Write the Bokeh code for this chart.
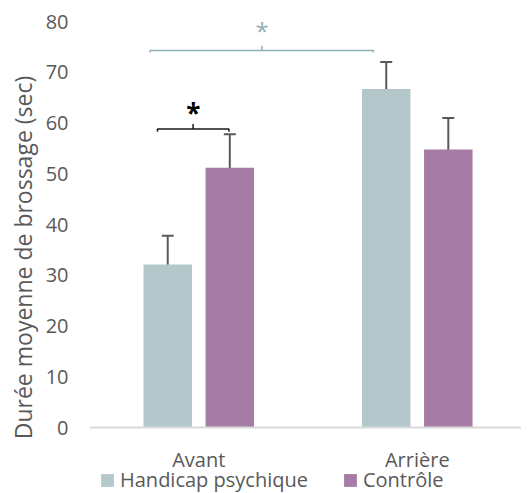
from bokeh.plotting import figure
from bokeh.models import (Range1d, FixedTicker, ColumnDataSource, Whisker, TeeHead,
                          Legend, LegendItem, Span, Title)
from bokeh.core.properties import value
from bokeh.embed import file_html
from bokeh.resources import INLINE

# ---- data ----
categories = ["Avant", "Arrière"]
series_names = ["Handicap psychique", "Contrôle"]
handicap = [32.1, 66.7]
handicap_err = [5.7, 5.3]
controle = [51.2, 54.8]
controle_err = [6.6, 6.2]
y_ticks = [0, 10, 20, 30, 40, 50, 60, 70, 80]

TEAL = "#b4c8cb"
PURPLE = "#a67ba5"
ERR = "#595959"
TXT = "#595959"
FONT = "Open Sans"

centers = [i + 0.5 for i in range(len(categories))]
OFF = 0.142
BW = 0.222

src_h = ColumnDataSource(dict(
    x=[c - OFF for c in centers], top=handicap,
    upper=[v + e for v, e in zip(handicap, handicap_err)],
    lower=[v - e for v, e in zip(handicap, handicap_err)]))
src_c = ColumnDataSource(dict(
    x=[c + OFF for c in centers], top=controle,
    upper=[v + e for v, e in zip(controle, controle_err)],
    lower=[v - e for v, e in zip(controle, controle_err)]))

# frame reaches the bottom of the page; the value axis starts below 0 so that
# category labels and legend can sit inside it under the baseline
p = figure(width=521, height=493, x_range=Range1d(0, 1.977), y_range=Range1d(-13.0, 80),
           output_backend="svg", toolbar_location=None,
           min_border_left=84, min_border_right=0, min_border_top=21, min_border_bottom=0)
p.outline_line_color = None
p.xgrid.grid_line_color = None
p.ygrid.grid_line_color = None
p.xaxis.visible = False

r_h = p.vbar(x="x", top="top", bottom=0, width=BW, source=src_h, fill_color=TEAL, line_color=None)
r_c = p.vbar(x="x", top="top", bottom=0, width=BW, source=src_c, fill_color=PURPLE, line_color=None)

for src in (src_h, src_c):
    w = Whisker(base="x", upper="upper", lower="lower", source=src, dimension="height",
                line_color=ERR, line_width=2,
                upper_head=TeeHead(size=12, line_color=ERR, line_width=2),
                lower_head=TeeHead(size=12, line_color=ERR, line_width=2))
    p.add_layout(w)

# baseline (category axis line)
p.add_layout(Span(location=0, dimension="width", line_color="#d9d9d9", line_width=2))

# category labels
p.text(x=centers, y=[0] * len(categories), text=categories, text_font=value(FONT),
       text_font_size="20px", text_color=TXT, text_align="center",
       text_baseline="alphabetic", y_offset=32)

# significance brackets
p.multi_line(xs=[[0.311, 0.311, 0.638, 0.638], [0.474, 0.474]],
             ys=[[58.3, 58.8, 58.8, 58.3], [58.8, 59.8]],
             line_color="#1a1a1a", line_width=1.5)
p.text(x=[0.475], y=[62.8], text=["*"], text_font=value(FONT), text_font_size="26px",
       text_font_style="bold", text_align="center", text_baseline="middle",
       text_color="#000000", y_offset=4)

p.multi_line(xs=[[0.277, 0.277, 1.299, 1.299], [0.789, 0.789]],
             ys=[[73.9, 74.3, 74.3, 73.9], [74.3, 75.2]],
             line_color="#8fb0b4", line_width=1.5)
p.text(x=[0.79], y=[78.5], text=["*"], text_font=value(FONT), text_font_size="24px",
       text_align="center", text_baseline="middle", text_color="#8fb0b4", y_offset=1)

# value axis
p.yaxis.ticker = FixedTicker(ticks=y_ticks)
p.yaxis.axis_line_color = None
p.yaxis.major_tick_line_color = None
p.yaxis.minor_tick_line_color = None
p.yaxis.major_tick_out = 0
p.yaxis.major_label_standoff = 21
p.yaxis.major_label_text_font = FONT
p.yaxis.major_label_text_font_size = "20px"
p.yaxis.major_label_text_color = TXT

ytitle = Title(text="Durée moyenne de brossage (sec)", align="center", offset=33.5,
               standoff=8, text_font=FONT, text_font_size="23px",
               text_font_style="normal", text_color=TXT)
p.add_layout(ytitle, "left")

legend = Legend(items=[LegendItem(label=series_names[0], renderers=[r_h]),
                       LegendItem(label=series_names[1], renderers=[r_c])],
                orientation="horizontal", location=(10, 0),
                padding=0, margin=0, spacing=34, label_standoff=5,
                glyph_width=16, glyph_height=16,
                border_line_alpha=0, background_fill_alpha=0,
                label_text_font=FONT, label_text_font_size="20px", label_text_color=TXT)
p.add_layout(legend)

open("out.html", "w").write(file_html(p, INLINE))
